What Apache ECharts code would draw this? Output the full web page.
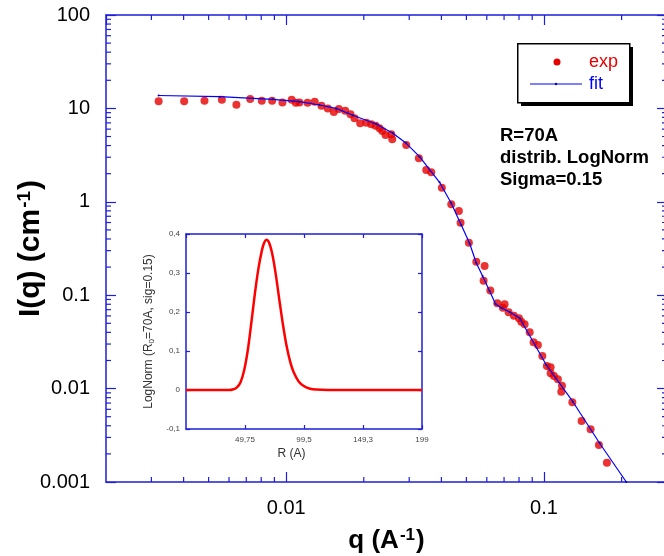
<!DOCTYPE html>
<html><head><meta charset="utf-8">
<script src="https://cdn.jsdelivr.net/npm/echarts@6/dist/echarts.min.js"></script>
<style>html,body{margin:0;padding:0;background:#fff}#c{width:664px;height:556px}</style>
</head><body><div id="c"></div>
<script>
// ---- main chart data (log-log) ----
const expQ = [0.00320,0.00402,0.00482,0.00563,0.00641,0.00725,0.00804,0.00882,0.00967,0.0105,0.0109,0.01126,0.0121,0.0129,0.0137,0.0145,0.0153,0.0160,0.01694,0.01776,0.01841,0.01937,0.02044,0.02137,0.02222,0.02301,0.02358,0.02429,0.02556,0.02578,0.02922,0.0327,0.03494,0.03653,0.04017,0.04368,0.04675,0.04747,0.05112,0.05462,0.05883,0.05831,0.0619,0.0659,0.07034,0.06928,0.07291,0.07643,0.07993,0.08166,0.0841,0.088,0.0911,0.0947,0.0985,0.1026,0.1061,0.1061,0.1093,0.1132,0.1174,0.1167,0.1288,0.1399,0.1516,0.1633,0.1754];
const expI = [11.9,11.9,12.1,12.4,10.95,12.6,12.1,12.1,11.6,12.4,11.5,11.6,11.5,11.8,10.7,10.0,9.15,9.85,9.45,8.65,7.83,6.93,7.03,6.76,6.53,6.12,5.73,5.19,5.28,4.67,4.06,2.92,2.19,2.07,1.416,0.94,0.797,0.597,0.365,0.228,0.205,0.143,0.112,0.0819,0.0799,0.0735,0.0656,0.0603,0.0566,0.052,0.0488,0.0401,0.0313,0.0293,0.0223,0.01746,0.0169,0.01458,0.01364,0.01258,0.01074,0.00926,0.00713,0.0045,0.00367,0.00249,0.00161];
const fitQ = [0.0032,0.00551,0.00887,0.01126,0.01346,0.01563,0.01813,0.02235,0.02593,0.02922,0.0329,0.03935,0.04368,0.04776,0.05144,0.05462,0.05778,0.06151,0.0649,0.06847,0.07355,0.08043,0.1021,0.1294,0.1644,0.2086];
const fitI = [13.75,13.35,12.52,11.8,10.87,10.0,8.45,6.8,5.41,4.23,3.04,1.618,0.964,0.564,0.3594,0.2212,0.1606,0.1109,0.0805,0.0729,0.0661,0.057,0.0179,0.00724,0.0026,0.001];
const qRange = [0.002, 0.3];
const iRange = [0.001, 100];
const qTickValues = [0.01, 0.1];
const qTickLabels = ['0.01', '0.1'];
const iTickValues = [0.001, 0.01, 0.1, 1, 10, 100];
const iTickLabels = ['0.001', '0.01', '0.1', '1', '10', '100'];
const qMinorTicks = [0.003,0.004,0.005,0.006,0.007,0.008,0.009,0.02,0.03,0.04,0.05,0.06,0.07,0.08,0.09,0.2];
const iMinorTicks = [0.002,0.003,0.004,0.005,0.006,0.007,0.008,0.009,0.02,0.03,0.04,0.05,0.06,0.07,0.08,0.09,0.2,0.3,0.4,0.5,0.6,0.7,0.8,0.9,2,3,4,5,6,7,8,9,20,30,40,50,60,70,80,90];
// ---- inset (size distribution) ----
const distR = [0,20,36,40,43,46,49,52,55,58,61,64,66,67.7,70,73,76,79,82,85,88,91,95,99,104,110,120,199];
const distP = [0,0,0,0.002,0.007,0.02,0.05,0.1,0.17,0.245,0.31,0.358,0.378,0.385,0.378,0.345,0.29,0.225,0.163,0.11,0.071,0.044,0.022,0.011,0.004,0.001,0,0];
const insetXTicks = [0, 49.75, 99.5, 149.25, 199];
const insetXLabels = ['', '49,75', '99,5', '149,3', '199'];
const insetYTicks = [-0.1, 0, 0.1, 0.2, 0.3, 0.4];
const insetYLabels = ['-0,1', '0', '0,1', '0,2', '0,3', '0,4'];
const annotation = ['R=70A', 'distrib. LogNorm', 'Sigma=0.15'];
const seriesNames = ['exp', 'fit'];

const AX = '#1e1edc';
const FONT = 'Liberation Sans, Arial, sans-serif';
function pick(vals, labs, v) {
  let best = -1, bd = Infinity;
  vals.forEach((t, i) => { const d = Math.abs(Math.log10(Math.abs(t) || 1e-12) - Math.log10(Math.abs(v) || 1e-12)); if (d < bd) { bd = d; best = i; } });
  return bd < 0.01 ? labs[best] : '';
}
function pickLin(vals, labs, v) {
  for (let i = 0; i < vals.length; i++) if (Math.abs(vals[i] - v) < 1e-6) return labs[i];
  return '';
}

const chart = echarts.init(document.getElementById('c'), null, {renderer: 'canvas'});
const mainAxisCommon = {
  type: 'log', logBase: 10, nameMoveOverlap: false,
  axisLine: {show: true, onZero: false, lineStyle: {color: AX, width: 1.5}},
  axisTick: {show: true, inside: true, length: 10, lineStyle: {color: AX, width: 1.2}},
  splitLine: {show: false}, minorTick: {show: false}
};
const insetLine = {show: true, onZero: false, lineStyle: {color: AX, width: 1.5}};
const insetTick = {show: true, inside: true, length: 4, lineStyle: {color: AX, width: 1.2}};
const minorData = qMinorTicks.map(q => [q, iRange[0], 0]).concat(iMinorTicks.map(v => [qRange[0], v, 1]));
const supRich = {sup: {fontSize: 17, fontWeight: 'bold', color: '#000', verticalAlign: 'top', padding: [0, 1, 11, 1], fontFamily: FONT}};
const supRichY = {sup: {fontSize: 19, fontWeight: 'bold', color: '#000', verticalAlign: 'top', padding: [0, 1, 12, 1], fontFamily: FONT}};

const option = {
  backgroundColor: '#fff',
  animation: false,
  textStyle: {fontFamily: FONT},
  grid: [
    {left: 106, top: 15, width: 561, height: 467, containLabel: false, outerBoundsMode: 'none'},
    {left: 186, top: 234, width: 236, height: 195, containLabel: false, outerBoundsMode: 'none'}
  ],
  xAxis: [
    Object.assign({}, mainAxisCommon, {gridIndex: 0, position: 'bottom', min: qRange[0], max: qRange[1],
      axisLabel: {show: true, margin: 16, fontSize: 20, color: '#000', fontFamily: FONT, showMinLabel: false, showMaxLabel: false,
        formatter: v => pick(qTickValues, qTickLabels, v)},
      name: 'q (A{sup|-1})', nameLocation: 'middle', nameGap: 45,
      nameTextStyle: {fontSize: 26, fontWeight: 'bold', color: '#000', fontFamily: FONT, rich: supRich}}),
    Object.assign({}, mainAxisCommon, {gridIndex: 0, position: 'top', min: qRange[0], max: qRange[1], axisLabel: {show: false}}),
    {type: 'value', gridIndex: 1, position: 'bottom', min: 0, max: 199, interval: 49.75, nameMoveOverlap: false,
      axisLine: insetLine, axisTick: insetTick, splitLine: {show: false},
      axisLabel: {show: true, margin: 7, fontSize: 8, color: '#444', fontFamily: FONT, showMinLabel: false,
        formatter: v => pickLin(insetXTicks, insetXLabels, v)},
      name: 'R (A)', nameLocation: 'middle', nameGap: 19,
      nameTextStyle: {fontSize: 12, color: '#333', fontFamily: FONT, padding: [0, 25, 0, 0]}},
    {type: 'value', gridIndex: 1, position: 'top', min: 0, max: 199, interval: 49.75,
      axisLine: insetLine, axisTick: insetTick, splitLine: {show: false}, axisLabel: {show: false}}
  ],
  yAxis: [
    Object.assign({}, mainAxisCommon, {gridIndex: 0, position: 'left', min: iRange[0], max: iRange[1],
      axisLabel: {show: true, margin: 16, fontSize: 20, color: '#000', fontFamily: FONT,
        formatter: v => pick(iTickValues, iTickLabels, v)},
      name: 'I(q) (cm{sup|-1})', nameLocation: 'middle', nameGap: 60,
      nameTextStyle: {fontSize: 30, fontWeight: 'bold', color: '#000', fontFamily: FONT, rich: supRichY}}),
    Object.assign({}, mainAxisCommon, {gridIndex: 0, position: 'right', min: iRange[0], max: iRange[1], axisLabel: {show: false}}),
    {type: 'value', gridIndex: 1, position: 'left', min: -0.1, max: 0.4, interval: 0.1, nameMoveOverlap: false,
      axisLine: insetLine, axisTick: insetTick, splitLine: {show: false},
      axisLabel: {show: true, margin: 6, fontSize: 8, color: '#444', fontFamily: FONT,
        formatter: v => pickLin(insetYTicks, insetYLabels, v)},
      name: 'LogNorm (R{sub|0}=70A, sig=0.15)', nameLocation: 'middle', nameGap: 30,
      nameTextStyle: {fontSize: 12, color: '#333', fontFamily: FONT,
        rich: {sub: {fontSize: 8, color: '#333', verticalAlign: 'bottom', padding: [6, 0, 0, 0], fontFamily: FONT}}}},
    {type: 'value', gridIndex: 1, position: 'right', min: -0.1, max: 0.4, interval: 0.1,
      axisLine: insetLine, axisTick: insetTick, splitLine: {show: false}, axisLabel: {show: false}}
  ],
  series: [
    {type: 'custom', xAxisIndex: 0, yAxisIndex: 0, silent: true, clip: false, z: 3,
      data: minorData,
      renderItem: function (params, api) {
        const kind = api.value(2);
        if (kind === 0) {
          const q = api.value(0);
          const b = api.coord([q, iRange[0]]), t = api.coord([q, iRange[1]]);
          return {type: 'group', children: [
            {type: 'line', shape: {x1: b[0], y1: b[1], x2: b[0], y2: b[1] - 5}, style: {stroke: AX, lineWidth: 1.2}},
            {type: 'line', shape: {x1: t[0], y1: t[1], x2: t[0], y2: t[1] + 5}, style: {stroke: AX, lineWidth: 1.2}}
          ]};
        } else {
          const v = api.value(1);
          const l = api.coord([qRange[0], v]), r = api.coord([qRange[1], v]);
          return {type: 'group', children: [
            {type: 'line', shape: {x1: l[0], y1: l[1], x2: l[0] + 5, y2: l[1]}, style: {stroke: AX, lineWidth: 1.2}},
            {type: 'line', shape: {x1: r[0], y1: r[1], x2: r[0] - 5, y2: r[1]}, style: {stroke: AX, lineWidth: 1.2}}
          ]};
        }
      }},
    {name: seriesNames[0], type: 'scatter', xAxisIndex: 0, yAxisIndex: 0, z: 4,
      symbol: 'circle', symbolSize: 8,
      itemStyle: {color: '#e60000'},
      data: expQ.map((q, i) => [q, expI[i]])},
    {name: seriesNames[1], type: 'line', xAxisIndex: 0, yAxisIndex: 0, z: 5,
      symbol: 'circle', symbolSize: 2, showSymbol: true,
      itemStyle: {color: '#0000b0'},
      lineStyle: {color: '#0000ff', width: 1.2},
      data: fitQ.map((q, i) => [q, fitI[i]])},
    {name: 'distribution', type: 'line', xAxisIndex: 2, yAxisIndex: 2, z: 5,
      symbol: 'none', smooth: 0.35,
      lineStyle: {color: '#ff0000', width: 2.5},
      data: distR.map((r, i) => [r, distP[i]])}
  ],
  graphic: [
    {type: 'rect', left: 521, top: 47, shape: {width: 112, height: 59}, style: {fill: '#000'}, z: 10},
    {type: 'rect', left: 517, top: 43, shape: {width: 112, height: 59}, style: {fill: '#fff', stroke: '#000', lineWidth: 1.5}, z: 11},
    {type: 'circle', shape: {cx: 557, cy: 62, r: 3.5}, style: {fill: '#e60000'}, z: 12},
    {type: 'text', x: 589, y: 62, style: {text: seriesNames[0], fill: '#e60000', font: '18px ' + FONT, verticalAlign: 'middle'}, z: 12},
    {type: 'line', shape: {x1: 530, y1: 84, x2: 582, y2: 84}, style: {stroke: '#0000ff', lineWidth: 1.2}, z: 12},
    {type: 'circle', shape: {cx: 556, cy: 84, r: 1.2}, style: {fill: '#0000b0'}, z: 13},
    {type: 'text', x: 589, y: 84, style: {text: seriesNames[1], fill: '#0000ff', font: '18px ' + FONT, verticalAlign: 'middle'}, z: 12},
    {type: 'text', x: 500, y: 136, style: {text: annotation[0], fill: '#000', font: 'bold 18.5px ' + FONT, verticalAlign: 'middle'}, z: 12},
    {type: 'text', x: 500, y: 158, style: {text: annotation[1], fill: '#000', font: 'bold 18.5px ' + FONT, verticalAlign: 'middle'}, z: 12},
    {type: 'text', x: 500, y: 180, style: {text: annotation[2], fill: '#000', font: 'bold 18.5px ' + FONT, verticalAlign: 'middle'}, z: 12}
  ]
};
chart.setOption(option);
</script>
</body></html>
